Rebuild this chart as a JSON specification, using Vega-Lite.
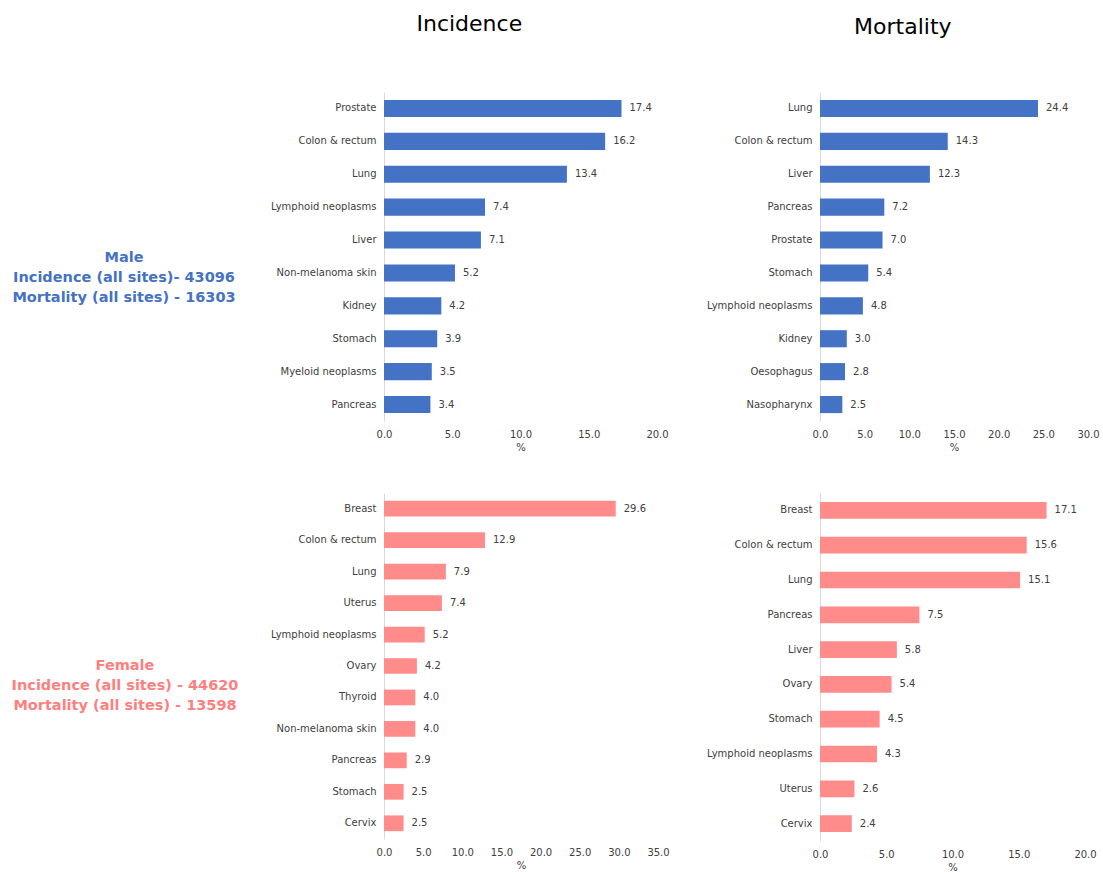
{
  "$schema": "https://vega.github.io/schema/vega-lite/v6.json",
  "padding": {"left": 5, "top": 13, "right": 0, "bottom": 0},
  "background": "white",
  "datasets": {
    "cancer": [
      {"sex": "Male", "measure": "Incidence", "site": "Prostate", "pct": 17.4},
      {"sex": "Male", "measure": "Incidence", "site": "Colon & rectum", "pct": 16.2},
      {"sex": "Male", "measure": "Incidence", "site": "Lung", "pct": 13.4},
      {"sex": "Male", "measure": "Incidence", "site": "Lymphoid neoplasms", "pct": 7.4},
      {"sex": "Male", "measure": "Incidence", "site": "Liver", "pct": 7.1},
      {"sex": "Male", "measure": "Incidence", "site": "Non-melanoma skin", "pct": 5.2},
      {"sex": "Male", "measure": "Incidence", "site": "Kidney", "pct": 4.2},
      {"sex": "Male", "measure": "Incidence", "site": "Stomach", "pct": 3.9},
      {"sex": "Male", "measure": "Incidence", "site": "Myeloid neoplasms", "pct": 3.5},
      {"sex": "Male", "measure": "Incidence", "site": "Pancreas", "pct": 3.4},
      {"sex": "Male", "measure": "Mortality", "site": "Lung", "pct": 24.4},
      {"sex": "Male", "measure": "Mortality", "site": "Colon & rectum", "pct": 14.3},
      {"sex": "Male", "measure": "Mortality", "site": "Liver", "pct": 12.3},
      {"sex": "Male", "measure": "Mortality", "site": "Pancreas", "pct": 7.2},
      {"sex": "Male", "measure": "Mortality", "site": "Prostate", "pct": 7.0},
      {"sex": "Male", "measure": "Mortality", "site": "Stomach", "pct": 5.4},
      {"sex": "Male", "measure": "Mortality", "site": "Lymphoid neoplasms", "pct": 4.8},
      {"sex": "Male", "measure": "Mortality", "site": "Kidney", "pct": 3.0},
      {"sex": "Male", "measure": "Mortality", "site": "Oesophagus", "pct": 2.8},
      {"sex": "Male", "measure": "Mortality", "site": "Nasopharynx", "pct": 2.5},
      {"sex": "Female", "measure": "Incidence", "site": "Breast", "pct": 29.6},
      {"sex": "Female", "measure": "Incidence", "site": "Colon & rectum", "pct": 12.9},
      {"sex": "Female", "measure": "Incidence", "site": "Lung", "pct": 7.9},
      {"sex": "Female", "measure": "Incidence", "site": "Uterus", "pct": 7.4},
      {"sex": "Female", "measure": "Incidence", "site": "Lymphoid neoplasms", "pct": 5.2},
      {"sex": "Female", "measure": "Incidence", "site": "Ovary", "pct": 4.2},
      {"sex": "Female", "measure": "Incidence", "site": "Thyroid", "pct": 4.0},
      {"sex": "Female", "measure": "Incidence", "site": "Non-melanoma skin", "pct": 4.0},
      {"sex": "Female", "measure": "Incidence", "site": "Pancreas", "pct": 2.9},
      {"sex": "Female", "measure": "Incidence", "site": "Stomach", "pct": 2.5},
      {"sex": "Female", "measure": "Incidence", "site": "Cervix", "pct": 2.5},
      {"sex": "Female", "measure": "Mortality", "site": "Breast", "pct": 17.1},
      {"sex": "Female", "measure": "Mortality", "site": "Colon & rectum", "pct": 15.6},
      {"sex": "Female", "measure": "Mortality", "site": "Lung", "pct": 15.1},
      {"sex": "Female", "measure": "Mortality", "site": "Pancreas", "pct": 7.5},
      {"sex": "Female", "measure": "Mortality", "site": "Liver", "pct": 5.8},
      {"sex": "Female", "measure": "Mortality", "site": "Ovary", "pct": 5.4},
      {"sex": "Female", "measure": "Mortality", "site": "Stomach", "pct": 4.5},
      {"sex": "Female", "measure": "Mortality", "site": "Lymphoid neoplasms", "pct": 4.3},
      {"sex": "Female", "measure": "Mortality", "site": "Uterus", "pct": 2.6},
      {"sex": "Female", "measure": "Mortality", "site": "Cervix", "pct": 2.4}
    ],
    "labels": [
      {"sex": "Male", "text": "Male\nIncidence (all sites)- 43096\nMortality (all sites) - 16303"},
      {"sex": "Female", "text": "Female\nIncidence (all sites) - 44620\nMortality (all sites) - 13598"}
    ]
  },
  "columns": 3,
  "spacing": {"column": 162, "row": 72},
  "bounds": "flush",
  "concat": [
    {
      "width": 217, "height": 329,
      "data": {"name": "labels"},
      "transform": [{"filter": "datum.sex === 'Male'"}],
      "mark": {"type": "text", "lineBreak": "\n", "lineHeight": 20, "fontSize": 14.5, "fontWeight": "bold", "color": "#4472C4", "dx": 10.5, "dy": 1, "align": "center", "baseline": "middle", "font": "DejaVu Sans"},
      "encoding": {"text": {"field": "text", "type": "nominal"}}
    },
    {
      "width": 273, "height": 329,
      "title": {"text": "Incidence", "fontSize": 22, "fontWeight": "normal", "frame": "bounds", "anchor": "middle", "offset": 56, "color": "#000000", "font": "DejaVu Sans"},
      "data": {"name": "cancer"},
      "transform": [{"filter": "datum.sex === 'Male' && datum.measure === 'Incidence'"}],
      "encoding": {
        "y": {"field": "site", "type": "nominal", "sort": null, "scale": {"paddingInner": 0.48, "paddingOuter": 0.24}, "axis": {"title": null}},
        "x": {"field": "pct", "type": "quantitative", "scale": {"domain": [0, 20], "nice": false}, "axis": {"values": [0, 5, 10, 15, 20], "title": "%"}}
      },
      "layer": [
        {"mark": {"type": "bar", "color": "#4472C4"}},
        {"mark": {"type": "text", "align": "left", "dx": 8, "baseline": "middle", "fontSize": 10, "color": "#404040"}, "encoding": {"text": {"field": "pct", "type": "quantitative", "format": ".1f"}}}
      ]
    },
    {
      "width": 268, "height": 329,
      "title": {"text": "Mortality", "fontSize": 22, "fontWeight": "normal", "frame": "bounds", "anchor": "middle", "offset": 53, "color": "#000000", "font": "DejaVu Sans"},
      "data": {"name": "cancer"},
      "transform": [{"filter": "datum.sex === 'Male' && datum.measure === 'Mortality'"}],
      "encoding": {
        "y": {"field": "site", "type": "nominal", "sort": null, "scale": {"paddingInner": 0.48, "paddingOuter": 0.24}, "axis": {"title": null}},
        "x": {"field": "pct", "type": "quantitative", "scale": {"domain": [0, 30], "nice": false}, "axis": {"values": [0, 5, 10, 15, 20, 25, 30], "title": "%"}}
      },
      "layer": [
        {"mark": {"type": "bar", "color": "#4472C4"}},
        {"mark": {"type": "text", "align": "left", "dx": 8, "baseline": "middle", "fontSize": 10, "color": "#404040"}, "encoding": {"text": {"field": "pct", "type": "quantitative", "format": ".1f"}}}
      ]
    },
    {
      "width": 217, "height": 348,
      "data": {"name": "labels"},
      "transform": [{"filter": "datum.sex === 'Female'"}],
      "mark": {"type": "text", "lineBreak": "\n", "lineHeight": 20, "fontSize": 14.5, "fontWeight": "bold", "color": "#FF7F7F", "dx": 11.5, "dy": -1, "align": "center", "baseline": "middle", "font": "DejaVu Sans"},
      "encoding": {"text": {"field": "text", "type": "nominal"}}
    },
    {
      "width": 274, "height": 346,
      "data": {"name": "cancer"},
      "transform": [{"filter": "datum.sex === 'Female' && datum.measure === 'Incidence'"}],
      "encoding": {
        "y": {"field": "site", "type": "nominal", "sort": null, "scale": {"paddingInner": 0.5, "paddingOuter": 0.25}, "axis": {"title": null}},
        "x": {"field": "pct", "type": "quantitative", "scale": {"domain": [0, 35], "nice": false}, "axis": {"values": [0, 5, 10, 15, 20, 25, 30, 35], "title": "%"}}
      },
      "layer": [
        {"mark": {"type": "bar", "color": "#FF8B8B"}},
        {"mark": {"type": "text", "align": "left", "dx": 8, "baseline": "middle", "fontSize": 10, "color": "#404040"}, "encoding": {"text": {"field": "pct", "type": "quantitative", "format": ".1f"}}}
      ]
    },
    {
      "width": 265, "height": 348,
      "data": {"name": "cancer"},
      "transform": [{"filter": "datum.sex === 'Female' && datum.measure === 'Mortality'"}],
      "encoding": {
        "y": {"field": "site", "type": "nominal", "sort": null, "scale": {"paddingInner": 0.52, "paddingOuter": 0.26}, "axis": {"title": null}},
        "x": {"field": "pct", "type": "quantitative", "scale": {"domain": [0, 20], "nice": false}, "axis": {"values": [0, 5, 10, 15, 20], "title": "%"}}
      },
      "layer": [
        {"mark": {"type": "bar", "color": "#FF8B8B"}},
        {"mark": {"type": "text", "align": "left", "dx": 8, "baseline": "middle", "fontSize": 10, "color": "#404040"}, "encoding": {"text": {"field": "pct", "type": "quantitative", "format": ".1f"}}}
      ]
    }
  ],
  "config": {
    "font": "DejaVu Sans",
    "view": {"stroke": null},
    "axis": {"labelFont": "DejaVu Sans", "labelFontSize": 10, "labelColor": "#404040", "titleFont": "DejaVu Sans", "titleFontSize": 10, "titleFontWeight": "normal", "titleColor": "#404040", "ticks": false, "grid": false},
    "axisY": {"domain": true, "domainColor": "#D9D9D9", "labelPadding": 8},
    "axisX": {"domain": false, "labelPadding": 8, "titlePadding": 3, "format": ".1f", "labelFlush": false}
  }
}
